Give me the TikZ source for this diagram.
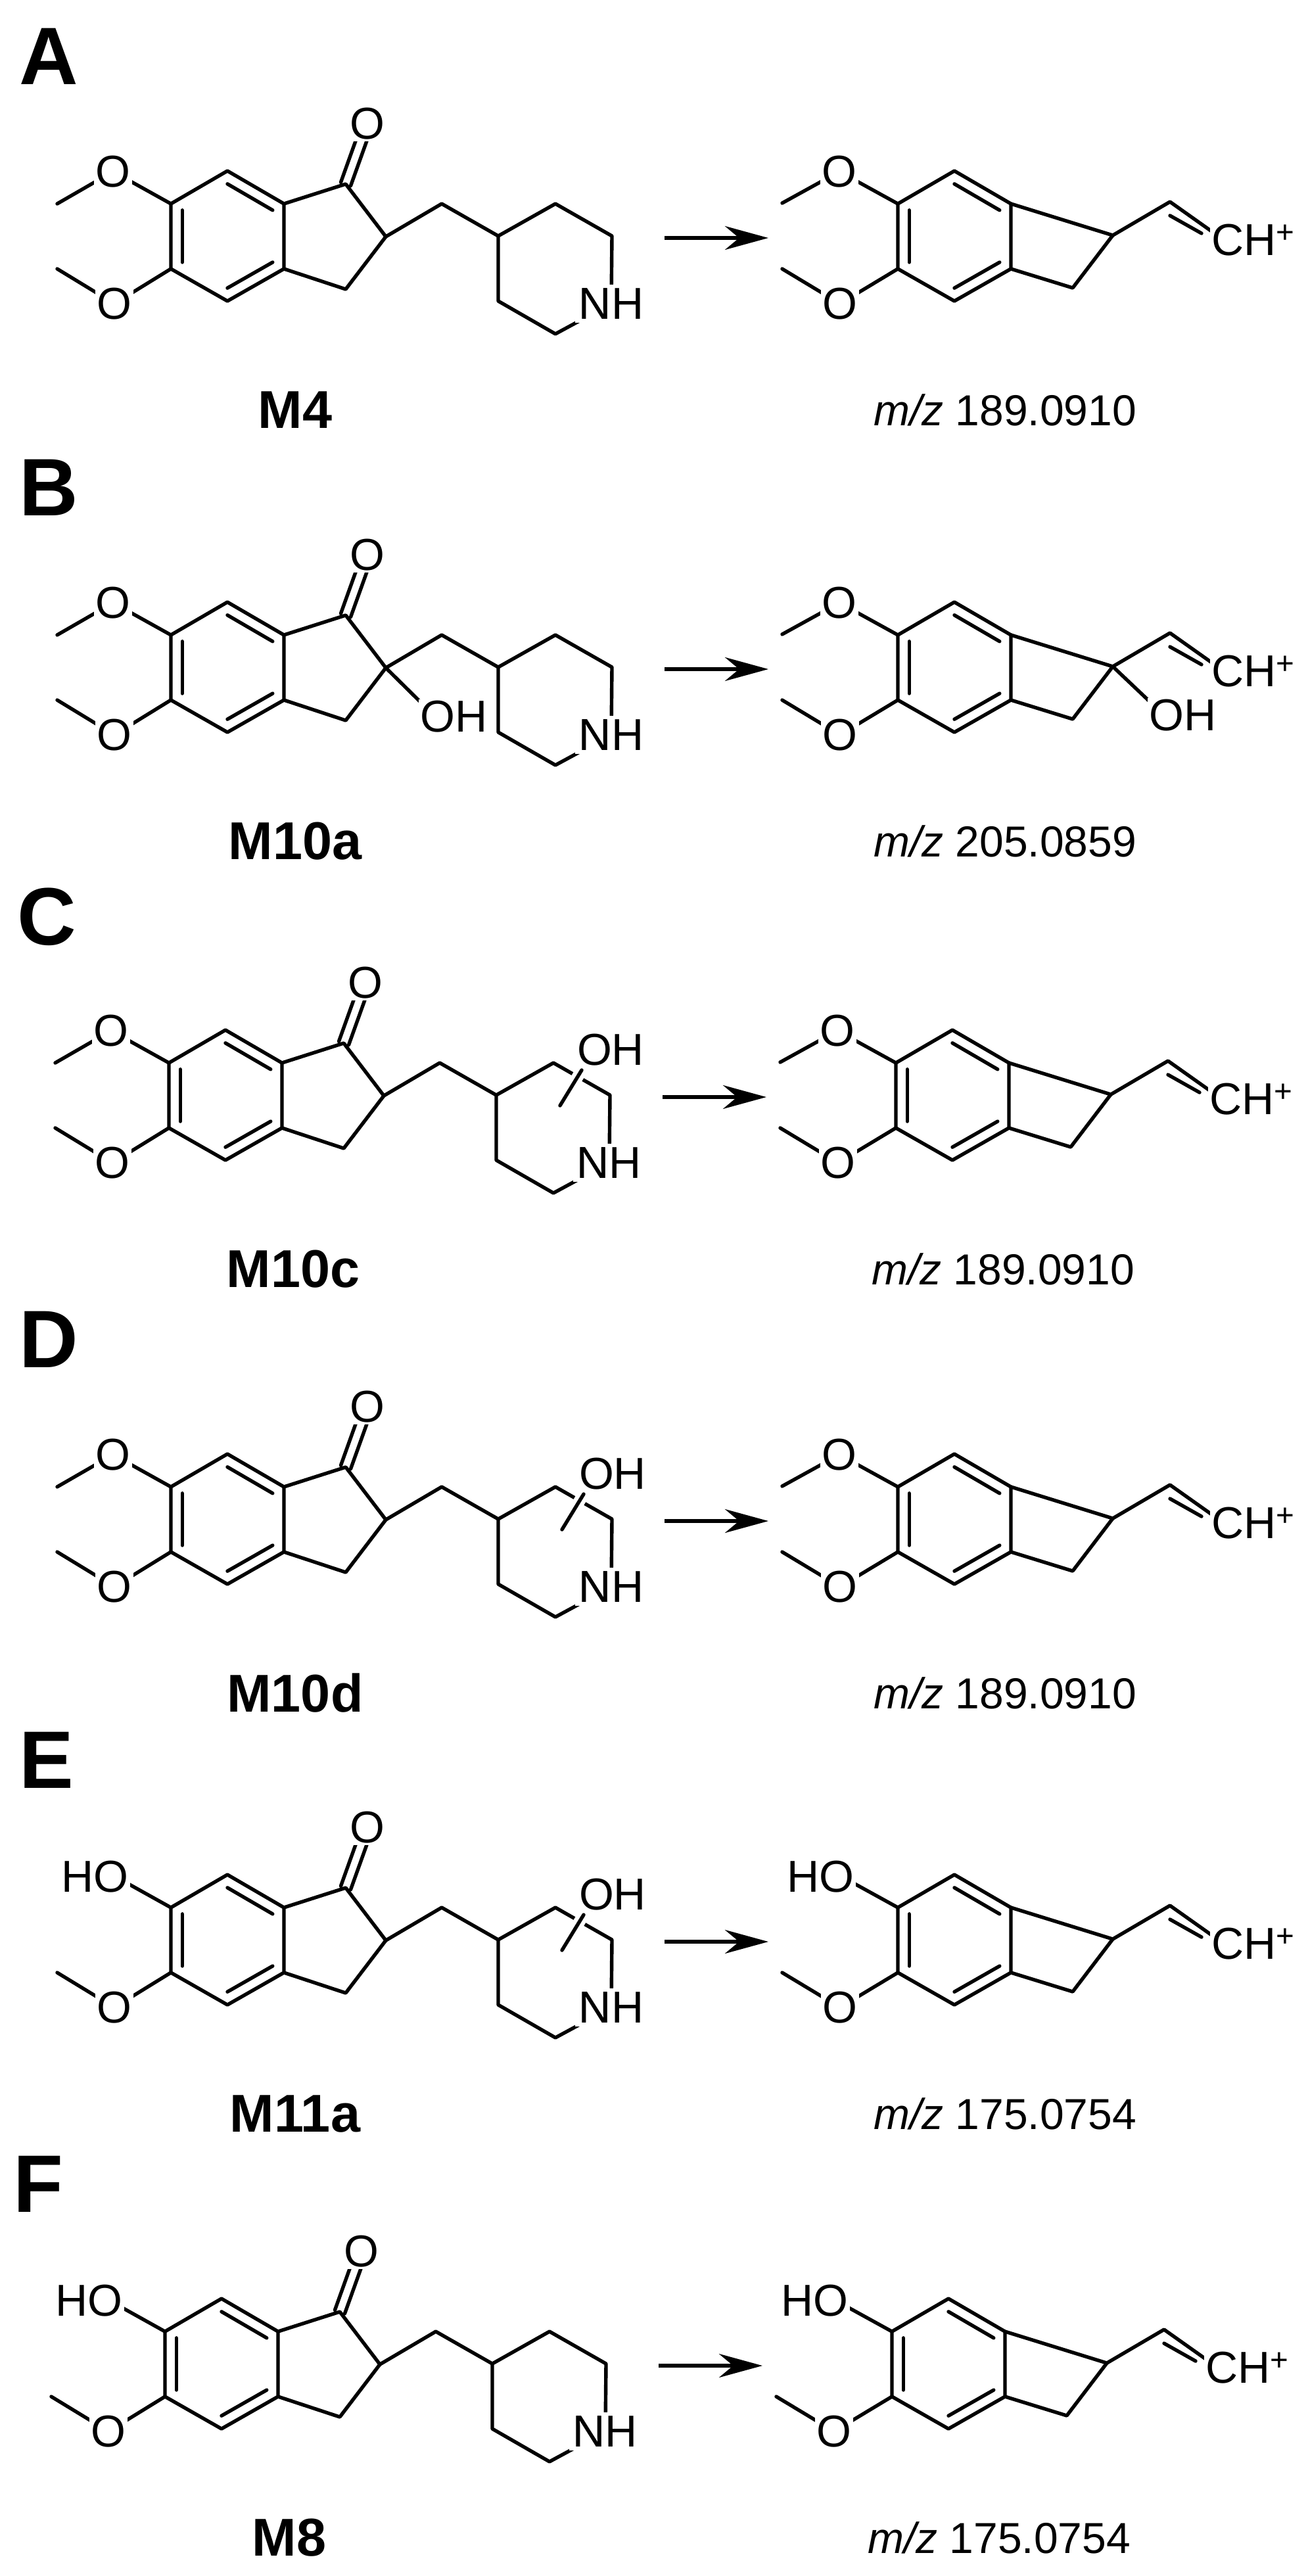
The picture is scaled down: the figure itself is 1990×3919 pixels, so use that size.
\documentclass[tikz,border=0pt]{standalone}
\usepackage{fontspec}
\setmainfont{Liberation Sans}
\usetikzlibrary{calc,arrows.meta}
\tikzset{
  bond/.style={line width=2.7pt,line cap=round,line join=round},
  atom/.style={font=\fontsize{34pt}{34pt}\selectfont,fill=white,inner sep=1.5pt},
  panellbl/.style={font=\fontsize{62pt}{62pt}\selectfont\bfseries,inner sep=0pt,anchor=north west},
  cmpd/.style={font=\fontsize{40.5pt}{40.5pt}\selectfont\bfseries,inner sep=0pt},
  mz/.style={font=\fontsize{33pt}{33pt}\selectfont,inner sep=0pt},
  rxn/.style={line width=2.8pt,-{Stealth[length=33pt,width=18pt]}},
}
% #1 prefix, #2 top HO (1) or OMe (0), #3 C2-OH (1), #4 ring OH (1)
\newcommand\MainMol[4]{%
  \coordinate (#1T) at (346,260); \coordinate (#1RT) at (432,310);
  \coordinate (#1RB) at (432,409); \coordinate (#1B) at (346,458);
  \coordinate (#1LB) at (260,409); \coordinate (#1LT) at (260,310);
  \coordinate (#1Z) at (346,359);
  \coordinate (#1C1) at (526,280); \coordinate (#1C2) at (587,360);
  \coordinate (#1C3) at (526,440); \coordinate (#1Ov) at (559,188);
  \coordinate (#1K) at (672,310); \coordinate (#1C4) at (758,359);
  \coordinate (#1P1) at (845,310); \coordinate (#1P2) at (931,359);
  \coordinate (#1Nv) at (930,462); \coordinate (#1P4) at (845,508);
  \coordinate (#1P5) at (758,458);
  \coordinate (#1Ot) at (172,261); \coordinate (#1Ob) at (174,462);
  \coordinate (#1Mt) at (87,310); \coordinate (#1Mb) at (87,409);
  \draw[bond] (#1T)--(#1RT)--(#1RB)--(#1B)--(#1LB)--(#1LT)--cycle;
  \draw[bond] ($(#1T)!0.2!(#1Z)$)--($(#1RT)!0.2!(#1Z)$);
  \draw[bond] ($(#1LT)!0.2!(#1Z)$)--($(#1LB)!0.2!(#1Z)$);
  \draw[bond] ($(#1RB)!0.2!(#1Z)$)--($(#1B)!0.2!(#1Z)$);
  \draw[bond] (#1RT)--(#1C1)--(#1C2)--(#1C3)--(#1RB);
  \draw[bond] ($(#1C1)+(-7.5,-2.7)$)--($(#1Ov)+(-7.5,-2.7)$);
  \draw[bond] ($(#1C1)+(7.5,2.7)$)--($(#1Ov)+(7.5,2.7)$);
  \draw[bond] (#1C2)--(#1K)--(#1C4);
  \draw[bond] (#1C4)--(#1P1)--(#1P2)--(#1Nv)--(#1P4)--(#1P5)--cycle;
  \draw[bond] (#1LT)--(#1Ot); \draw[bond] (#1LB)--(#1Ob)--(#1Mb);
  \ifnum#2=0 \draw[bond] (#1Ot)--(#1Mt); \fi
  \node[atom] (#1O) at (#1Ov) {O};
  \node[atom,inner sep=3pt] (#1N) at (#1Nv) {N\phantom{H}};
  \node[anchor=west,inner sep=0pt,font=\fontsize{34pt}{34pt}\selectfont] (#1NH) at (#1N.west) {\hspace{3pt}NH};
  \node[atom] (#1OMb) at (#1Ob) {O};
  \ifnum#2=0 \node[atom] (#1OMt) at (#1Ot) {O};
  \else \node[atom,anchor=east,inner sep=1pt] (#1HO) at (198,263) {HO}; \fi
  \ifnum#3=1
    \coordinate (#1Oh) at (662,434);
    \draw[bond] (#1C2)--(#1Oh);
    \node[atom,anchor=west,inner sep=1pt] (#1OH) at (637,434) {OH};
  \fi
  \ifnum#4=1
    \coordinate (#1s1) at (888,321); \coordinate (#1s2) at (855,375);
    \draw[line width=9pt,white] ($(#1s1)!0.1!(#1s2)$)--($(#1s1)!0.5!(#1s2)$);
    \draw[bond] (#1s1)--(#1s2);
    \node[atom,inner sep=1pt] (#1OH) at (932,290) {OH};
  \fi
}
\newcommand\ProdMol[3]{%
  \coordinate (#1T) at (1452,260); \coordinate (#1RT) at (1538,310);
  \coordinate (#1RB) at (1538,409); \coordinate (#1B) at (1452,458);
  \coordinate (#1LB) at (1366,409); \coordinate (#1LT) at (1366,310);
  \coordinate (#1Z) at (1452,359);
  \coordinate (#1C2) at (1693,358); \coordinate (#1C3) at (1632,438);
  \coordinate (#1V1) at (1780,307); \coordinate (#1Cv) at (1859,363);
  \coordinate (#1Ot) at (1277,261); \coordinate (#1Ob) at (1278,462);
  \coordinate (#1Mt) at (1190,309); \coordinate (#1Mb) at (1190,409);
  \draw[bond] (#1T)--(#1RT)--(#1RB)--(#1B)--(#1LB)--(#1LT)--cycle;
  \draw[bond] ($(#1T)!0.2!(#1Z)$)--($(#1RT)!0.2!(#1Z)$);
  \draw[bond] ($(#1LT)!0.2!(#1Z)$)--($(#1LB)!0.2!(#1Z)$);
  \draw[bond] ($(#1RB)!0.2!(#1Z)$)--($(#1B)!0.2!(#1Z)$);
  \draw[bond] (#1RT)--(#1C2)--(#1C3)--(#1RB);
  \draw[bond] (#1C2)--(#1V1)--(#1Cv);
  \draw[bond] ($(#1V1)+(0,21)$)--($(#1V1)+(48,48)$);
  \draw[bond] (#1LT)--(#1Ot); \draw[bond] (#1LB)--(#1Ob)--(#1Mb);
  \ifnum#2=0 \draw[bond] (#1Ot)--(#1Mt); \fi
  \node[atom,anchor=base west,inner sep=1pt] (#1CH) at (1841,388) {CH\textsuperscript{+}};
  \node[atom] (#1OMb) at (#1Ob) {O};
  \ifnum#2=0 \node[atom] (#1OMt) at (#1Ot) {O};
  \else \node[atom,anchor=east,inner sep=1pt] (#1HO) at (1302,263) {HO}; \fi
  \ifnum#3=1
    \coordinate (#1Oh) at (1771,432);
    \draw[bond] (#1C2)--(#1Oh);
    \node[atom,anchor=west,inner sep=1pt] (#1OH) at (1746,432) {OH};
  \fi
}
% #1 prefix #2 letter #3 name #4 mz #5 topHO #6 C2OH #7 ringOH
\newcommand\Panel[7]{%
  \node[panellbl] (#1lbl) at (29,43) {#2};
  \MainMol{#1m}{#5}{#6}{#7}
  \ProdMol{#1p}{#5}{#6}
  \coordinate (#1a1) at (1011,362); \coordinate (#1a2) at (1169,362);
  \draw[rxn] (#1a1)--(#1a2);
  \node[cmpd] (#1name) at (449,624) {#3};
  \node[mz] (#1mz) at (1529,624) {\textit{m/z} #4};
}
\begin{document}
\begin{tikzpicture}[x=0.5pt,y=-0.5pt]
\useasboundingbox (0,0) rectangle (1990,3919);
\fill[white] (0,0) rectangle (1990,3919);
\begin{scope}[shift={(0,0)}]\Panel{a}{A}{M4}{189.0910}{0}{0}{0}\end{scope}
\begin{scope}[shift={(0,656)}]\Panel{b}{B}{M10a}{205.0859}{0}{1}{0}\end{scope}
\begin{scope}[shift={(-3,1307)}]\Panel{c}{C}{M10c}{189.0910}{0}{0}{1}\end{scope}
\begin{scope}[shift={(0,1952)}]\Panel{d}{D}{M10d}{189.0910}{0}{0}{1}\end{scope}
\begin{scope}[shift={(0,2592)}]\Panel{e}{E}{M11a}{175.0754}{1}{0}{1}\end{scope}
\begin{scope}[shift={(-9,3237)}]\Panel{f}{F}{M8}{175.0754}{1}{0}{0}\end{scope}
\end{tikzpicture}
\end{document}
